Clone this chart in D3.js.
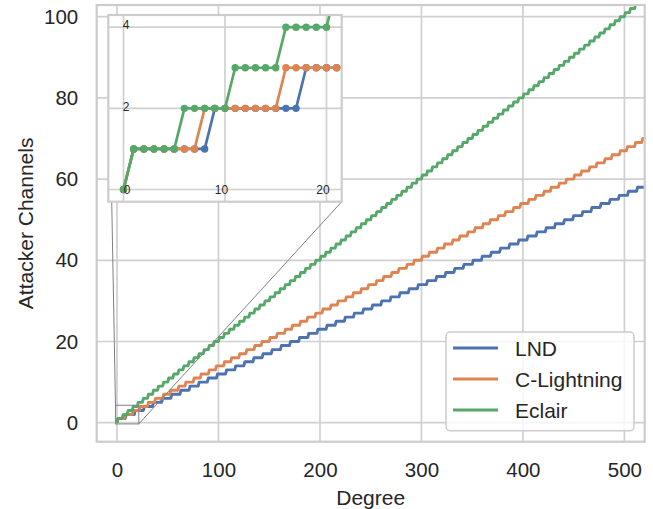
<!DOCTYPE html>
<html>
<head>
<meta charset="utf-8">
<script src="https://cdn.jsdelivr.net/npm/d3@7"></script>
<style>
  html, body { margin: 0; padding: 0; background: #fff; }
  svg { display: block; }
  text { font-family: "Liberation Sans", Arial, sans-serif; fill: #262626; }
</style>
</head>
<body>
<svg id="chart" width="653" height="509"></svg>
<script>
// ---- Data ----
const seriesNames = ["LND", "C-Lightning", "Eclair"];
const seriesColors = ["#4c72b0", "#dd8452", "#55a868"];
// Degrees at which each implementation's attacker-channel count increases by one
const lndSteps = [1,9,18,27,36,45,54,63,72,81,90,99,108,117,126,135,144,153,162,171,180,189,198,207,216,225,234,243,252,261,270,279,288,297,306,315,324,333,342,351,360,369,378,387,396,405,414,423,432,441,450,459,468,477,486,495,504,513];
const clightningSteps = [1,8,16,23,31,38,46,53,61,68,76,83,91,98,106,113,121,128,136,143,151,158,166,173,181,188,196,203,211,218,226,233,241,248,256,263,271,278,286,293,301,308,316,323,331,338,346,353,361,368,376,383,391,398,406,413,421,428,436,443,451,458,466,473,481,488,496,503,511,518];
const eclairSteps = [1,6,11,16,21,26,31,36,41,46,51,56,61,66,71,76,81,86,91,96,101,106,111,116,121,126,131,136,141,146,151,156,161,166,171,176,181,186,191,196,201,206,211,216,221,226,231,236,241,246,251,256,261,266,271,276,281,286,291,296,301,306,311,316,321,326,331,336,341,346,351,356,361,366,371,376,381,386,391,396,401,406,411,416,421,426,431,436,441,446,451,456,461,466,471,476,481,486,491,496,501,506,511,516];
const maxDegree = 520;
const xTicks = [0, 100, 200, 300, 400, 500];
const yTicks = [0, 20, 40, 60, 80, 100];
const insetXTicks = [0, 10, 20];
const insetYTicks = [0, 2, 4];

// Build per-degree counts from the step lists
const degrees = d3.range(0, maxDegree + 1);
function countsFrom(steps) {
  return degrees.map(d => ({ x: d, y: d3.bisectRight(steps, d) }));
}
const series = [lndSteps, clightningSteps, eclairSteps].map((s, i) => ({
  name: seriesNames[i], color: seriesColors[i], values: countsFrom(s)
}));

// ---- Layout ----
const svg = d3.select("#chart");
const M = { left: 96.7, right: 644.7, top: 5, bottom: 441.7 };
const x = d3.scaleLinear().domain([-20, 520]).range([M.left, M.right]);
const y = d3.scaleLinear().domain([-4.68, 102.88]).range([M.bottom, M.top]);

const gridColor = "#d0d0d0";
const frameColor = "#cccccc";

const defs = svg.append("defs");
defs.append("clipPath").attr("id", "mainClip").append("rect")
  .attr("x", M.left).attr("y", M.top).attr("width", M.right - M.left).attr("height", M.bottom - M.top);

// grid
const grid = svg.append("g");
grid.selectAll(".gx").data(xTicks).join("line")
  .attr("x1", d => x(d)).attr("x2", d => x(d)).attr("y1", M.top).attr("y2", M.bottom)
  .attr("stroke", gridColor).attr("stroke-width", 1.7);
grid.selectAll(".gy").data(yTicks).join("line")
  .attr("y1", d => y(d)).attr("y2", d => y(d)).attr("x1", M.left).attr("x2", M.right)
  .attr("stroke", gridColor).attr("stroke-width", 1.7);

// lines
const line = d3.line().x(d => x(d.x)).y(d => y(d.y));
const lines = svg.append("g").attr("clip-path", "url(#mainClip)");
series.forEach(s => {
  lines.append("path").datum(s.values).attr("d", line)
    .attr("fill", "none").attr("stroke", s.color).attr("stroke-width", 2.9)
    .attr("stroke-linejoin", "round");
});

// frame
svg.append("rect").attr("x", M.left).attr("y", M.top)
  .attr("width", M.right - M.left).attr("height", M.bottom - M.top)
  .attr("fill", "none").attr("stroke", frameColor).attr("stroke-width", 2.2);

// axes tick labels (via d3 axes, no domain/ticks lines)
const xAxis = svg.append("g").attr("transform", `translate(0,${M.bottom})`)
  .call(d3.axisBottom(x).tickValues(xTicks).tickSize(0).tickPadding(20.3));
xAxis.select(".domain").remove();
xAxis.selectAll("text").style("font-size", "20.5px").style("font-family", '"Liberation Sans", Arial, sans-serif').attr("fill", "#262626");

const yAxis = svg.append("g").attr("transform", `translate(${M.left},0)`)
  .call(d3.axisLeft(y).tickValues(yTicks).tickSize(0).tickPadding(18.5));
yAxis.select(".domain").remove();
yAxis.selectAll("text").style("font-size", "20.5px").style("font-family", '"Liberation Sans", Arial, sans-serif').attr("fill", "#262626");

// axis titles
svg.append("text").attr("x", (M.left + M.right) / 2).attr("y", 505)
  .attr("text-anchor", "middle").style("font-size", "21px").text("Degree");
svg.append("text").attr("transform", `translate(32.5,${(M.top + M.bottom) / 2}) rotate(-90)`)
  .attr("text-anchor", "middle").style("font-size", "21px").text("Attacker Channels");

// ---- Inset ----
const I = { left: 108.3, right: 341.7, top: 15, bottom: 201.7 };
const ix = d3.scaleLinear().domain([-1.5, 21.5]).range([I.left, I.right]);
const iy = d3.scaleLinear().domain([-0.3, 4.3]).range([I.bottom, I.top]);

// indicator rectangle + connectors
const markColor = "#808080";
svg.append("rect")
  .attr("x", x(-1.5)).attr("y", y(4.3))
  .attr("width", x(21.5) - x(-1.5)).attr("height", y(-0.3) - y(4.3))
  .attr("fill", "none").attr("stroke", markColor).attr("stroke-width", 1);
svg.append("line").attr("x1", x(-1.5)).attr("y1", y(4.3)).attr("x2", I.left).attr("y2", I.top)
  .attr("stroke", markColor).attr("stroke-width", 1);
svg.append("line").attr("x1", x(21.5)).attr("y1", y(-0.3)).attr("x2", I.right).attr("y2", I.bottom)
  .attr("stroke", markColor).attr("stroke-width", 1);

defs.append("clipPath").attr("id", "insetClip").append("rect")
  .attr("x", I.left).attr("y", I.top).attr("width", I.right - I.left).attr("height", I.bottom - I.top);

const inset = svg.append("g");
inset.append("rect").attr("x", I.left).attr("y", I.top)
  .attr("width", I.right - I.left).attr("height", I.bottom - I.top).attr("fill", "#fff");
inset.selectAll(".igx").data(insetXTicks).join("line")
  .attr("x1", d => ix(d)).attr("x2", d => ix(d)).attr("y1", I.top).attr("y2", I.bottom)
  .attr("stroke", gridColor).attr("stroke-width", 1.7);
inset.selectAll(".igy").data(insetYTicks).join("line")
  .attr("y1", d => iy(d)).attr("y2", d => iy(d)).attr("x1", I.left).attr("x2", I.right)
  .attr("stroke", gridColor).attr("stroke-width", 1.7);

const iline = d3.line().x(d => ix(d.x)).y(d => iy(d.y));
const ig = inset.append("g").attr("clip-path", "url(#insetClip)");
series.forEach(s => {
  const vals = s.values.filter(d => d.x <= 23);
  ig.append("path").datum(vals).attr("d", iline)
    .attr("fill", "none").attr("stroke", s.color).attr("stroke-width", 2.7)
    .attr("stroke-linejoin", "round");
  ig.selectAll(null).data(vals).join("circle")
    .attr("cx", d => ix(d.x)).attr("cy", d => iy(d.y)).attr("r", 3.7)
    .attr("fill", s.color);
});

inset.append("rect").attr("x", I.left).attr("y", I.top)
  .attr("width", I.right - I.left).attr("height", I.bottom - I.top)
  .attr("fill", "none").attr("stroke", frameColor).attr("stroke-width", 2.2);

// inset tick labels (drawn inside)
inset.selectAll(".ixl").data(insetXTicks).join("text")
  .attr("x", d => ix(d) + (d === 0 ? 3.5 : -3.5)).attr("y", iy(0))
  .attr("dy", "0.36em").attr("text-anchor", "middle")
  .style("font-size", "12px").text(d => d);
inset.selectAll(".iyl").data(insetYTicks.filter(d => d !== 0)).join("text")
  .attr("x", I.left + 14.5).attr("y", d => iy(d) - 2)
  .attr("dy", "0.36em").attr("text-anchor", "start")
  .style("font-size", "12px").text(d => d);

// ---- Legend ----
const L = { x: 446, y: 332, w: 188, h: 98.7 };
const legend = svg.append("g");
legend.append("rect").attr("x", L.x).attr("y", L.y).attr("width", L.w).attr("height", L.h)
  .attr("rx", 4).attr("fill", "#fff").attr("fill-opacity", 0.8)
  .attr("stroke", "#cccccc").attr("stroke-width", 1.5);
const rows = [348, 379, 410];
series.forEach((s, i) => {
  legend.append("line").attr("x1", 453).attr("x2", 498).attr("y1", rows[i]).attr("y2", rows[i])
    .attr("stroke", s.color).attr("stroke-width", 2.9);
  legend.append("text").attr("x", 515).attr("y", rows[i]).attr("dy", "0.36em")
    .style("font-size", "21px").text(s.name);
});
</script>
</body>
</html>
